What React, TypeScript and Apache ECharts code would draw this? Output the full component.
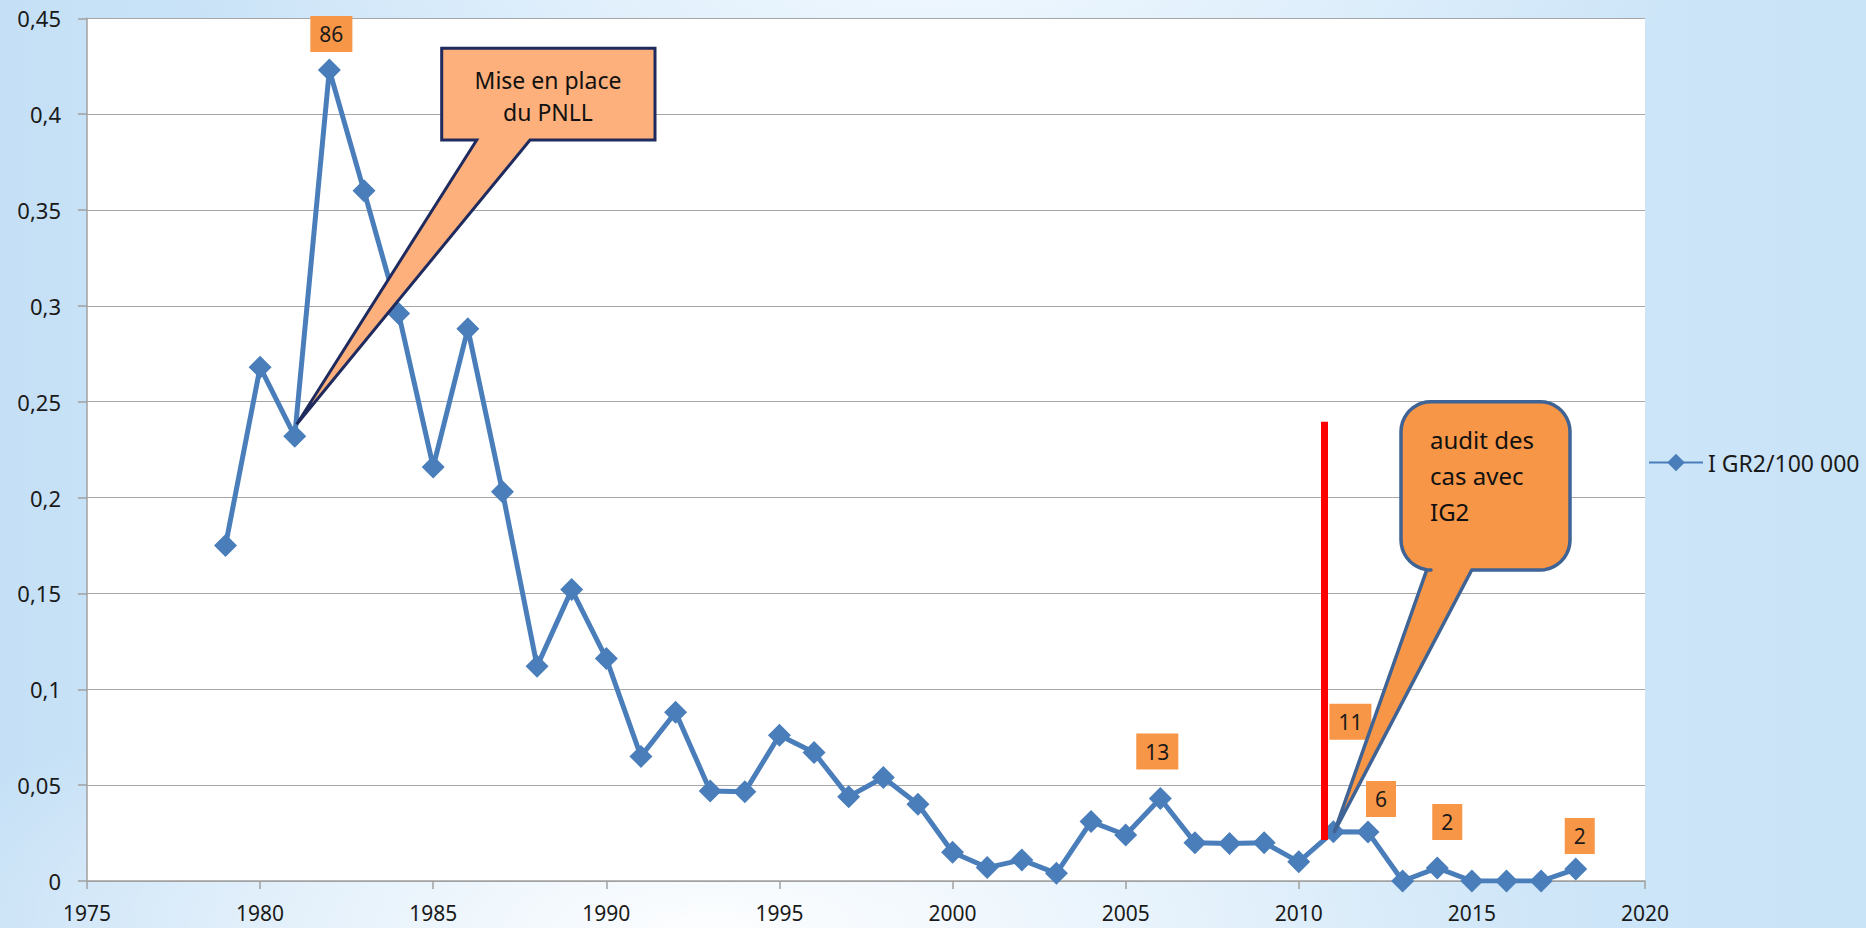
import React, { useEffect, useRef } from "react";
import * as echarts from "echarts";

// ---- data ----
const years = [
  1979, 1980, 1981, 1982, 1983, 1984, 1985, 1986, 1987, 1988, 1989, 1990,
  1991, 1992, 1993, 1994, 1995, 1996, 1997, 1998, 1999, 2000, 2001, 2002,
  2003, 2004, 2005, 2006, 2007, 2008, 2009, 2010, 2011, 2012, 2013, 2014,
  2015, 2016, 2017, 2018,
];
const rates = [
  0.175, 0.268, 0.232, 0.423, 0.36, 0.296, 0.216, 0.288, 0.203, 0.112, 0.152,
  0.116, 0.065, 0.088, 0.047, 0.0465, 0.076, 0.067, 0.044, 0.054, 0.04, 0.015,
  0.007, 0.011, 0.004, 0.031, 0.024, 0.043, 0.02, 0.0195, 0.02, 0.01, 0.0257,
  0.0255, 0, 0.0068, 0, 0, 0, 0.0062,
];
// case counts shown in orange boxes: [year, count]
const caseCounts: [number, number][] = [
  [1982, 86],
  [2006, 13],
  [2011, 11],
  [2012, 6],
  [2014, 2],
  [2018, 2],
];
const seriesName = "I GR2/100 000";
const xMin = 1975;
const xMax = 2020;
const xStep = 5;
const yMin = 0;
const yMax = 0.45;
const yStep = 0.05;
// red vertical marker: [year, valueFrom, valueTo]
const auditMarker = [2010.75, 0.0214, 0.2396];
const calloutPNLLYear = 1981;
const calloutAuditYear = 2011;
const calloutPNLLText = ["Mise en place", "du PNLL"];
const calloutAuditText = ["audit des", "cas avec", "IG2"];

const FONT = '"Noto Sans", "Open Sans", sans-serif';

// label offsets (pixels) relative to the point, kept out of the data
const labelOffsets: Record<number, [number, number]> = {
  1982: [2, -36],
  2006: [-3, -47],
  2011: [17, -110],
  2012: [13, -33],
  2014: [10, -46],
  2018: [4, -33],
};

function roundedCallout(
  x0: number, y0: number, x1: number, y1: number, r: number,
  baseL: number, baseR: number, tip: number[]
): number[][] {
  const pts: number[][] = [];
  const arc = (cx: number, cy: number, a0: number, a1: number) => {
    const n = 10;
    for (let i = 0; i <= n; i++) {
      const a = ((a0 + ((a1 - a0) * i) / n) * Math.PI) / 180;
      pts.push([cx + r * Math.cos(a), cy + r * Math.sin(a)]);
    }
  };
  arc(x0 + r, y0 + r, 180, 270);
  arc(x1 - r, y0 + r, 270, 360);
  arc(x1 - r, y1 - r, 0, 90);
  pts.push([baseR, y1]);
  pts.push(tip);
  pts.push([baseL, y1]);
  arc(x0 + r, y1 - r, 90, 180);
  return pts;
}

export default function App() {
  const ref = useRef<HTMLDivElement>(null);

  useEffect(() => {
    if (!ref.current) return;
    const chart = echarts.init(ref.current, undefined, { renderer: "svg" });
    const countMap = new Map(caseCounts);

    const data = years.map((y, i) => {
      const c = countMap.get(y);
      if (c === undefined) return [y, rates[i]];
      return {
        value: [y, rates[i]],
        label: {
          show: true,
          position: "inside",
          offset: labelOffsets[y] || [0, -36],
          formatter: String(c),
        },
      };
    });

    chart.setOption({
      animation: false,
      backgroundColor: "transparent",
      grid: {
        left: 87,
        right: 221,
        top: 18.3,
        bottom: 47,
        show: true,
        backgroundColor: "#ffffff",
        borderWidth: 0,
        outerBoundsMode: "none",
      },
      legend: {
        data: [seriesName],
        orient: "vertical",
        left: 1648,
        top: 451,
        padding: 0,
        itemWidth: 54,
        itemHeight: 22,
        textStyle: { fontSize: 23, color: "#1a1a1a", fontFamily: FONT },
      },
      xAxis: {
        type: "value",
        min: xMin,
        max: xMax,
        interval: xStep,
        axisLine: { show: true, lineStyle: { color: "#a0a0a0", width: 1.5 } },
        axisTick: { show: true, inside: false, length: 8, lineStyle: { color: "#a0a0a0", width: 1.5 } },
        axisLabel: {
          fontSize: 21,
          lineHeight: 24,
          color: "#1a1a1a",
          fontFamily: FONT,
          margin: 20,
          formatter: (v: number) => String(v),
        },
        splitLine: { show: false },
      },
      yAxis: {
        type: "value",
        min: yMin,
        max: yMax,
        interval: yStep,
        axisLine: { show: true, lineStyle: { color: "#a0a0a0", width: 1.5 } },
        axisTick: { show: true, inside: false, length: 9, lineStyle: { color: "#a0a0a0", width: 1.5 } },
        axisLabel: {
          fontSize: 22,
          color: "#1a1a1a",
          fontFamily: FONT,
          margin: 26,
          formatter: (v: number) => String(Math.round(v * 100) / 100).replace(".", ","),
        },
        splitLine: { show: true, lineStyle: { color: "#a6a6a6", width: 1 } },
      },
      series: [
        {
          name: seriesName,
          type: "line",
          data,
          symbol: "diamond",
          symbolSize: 23,
          color: "#4a7ebb",
          lineStyle: { color: "#4a7ebb", width: 5 },
          itemStyle: { color: "#4a7ebb" },
          label: {
            show: false,
            backgroundColor: "#f79646",
            color: "#1a1a1a",
            fontSize: 21,
            fontFamily: FONT,
            padding: [8, 9, 7, 9],
          },
          z: 2,
          markLine: {
            silent: true,
            symbol: ["none", "none"],
            label: { show: false },
            lineStyle: { color: "#ff0000", width: 7, type: "solid" },
            data: [
              [
                { coord: [auditMarker[0], auditMarker[1]] },
                { coord: [auditMarker[0], auditMarker[2]] },
              ],
            ],
          },
        },
      ],
    });

    const i1 = years.indexOf(calloutPNLLYear);
    const i2 = years.indexOf(calloutAuditYear);
    const p1 = chart.convertToPixel({ gridIndex: 0 }, [calloutPNLLYear, rates[i1]]) as number[];
    const p2 = chart.convertToPixel({ gridIndex: 0 }, [calloutAuditYear, rates[i2]]) as number[];

    const tip1 = [p1[0] + 2, p1[1] - 12];
    const poly1 = [
      [441.7, 48.3],
      [655, 48.3],
      [655, 140],
      [530, 140],
      tip1,
      [476.7, 140],
      [441.7, 140],
    ];
    const tip2 = [p2[0] + 1, p2[1]];
    const poly2 = roundedCallout(1401, 401.7, 1570, 570, 30, 1426.7, 1471.7, tip2);

    chart.setOption({
      graphic: [
        {
          type: "polygon",
          shape: { points: poly1 },
          style: { fill: "#fdb07b", stroke: "#1f2a5e", lineWidth: 3, lineJoin: "miter" },
          z: 100,
        },
        ...calloutPNLLText.map((t, k) => ({
          type: "text",
          z: 101,
          style: {
            text: t,
            x: 548,
            y: 80 + k * 31.7,
            fill: "#111111",
            font: `23px ${FONT}`,
            textAlign: "center",
            textVerticalAlign: "middle",
          },
        })),
        {
          type: "polygon",
          shape: { points: poly2 },
          style: { fill: "#f79646", stroke: "#3e6394", lineWidth: 3.5, lineJoin: "round" },
          z: 100,
        },
        ...calloutAuditText.map((t, k) => ({
          type: "text",
          z: 101,
          style: {
            text: t,
            x: 1430,
            y: 439 + k * 36,
            fill: "#111111",
            font: `24px ${FONT}`,
            textAlign: "left",
            textVerticalAlign: "middle",
          },
        })),
      ],
    });

    return () => chart.dispose();
  }, []);

  return (
    <div
      style={{
        position: "absolute",
        left: 0,
        top: 0,
        width: 1866,
        height: 928,
        background:
          "radial-gradient(ellipse 45% 30% at 38% 100%, rgba(255,255,255,0.95) 0%, rgba(255,255,255,0) 100%), radial-gradient(ellipse 40% 12% at 50% 0%, rgba(240,248,255,0.9) 0%, rgba(240,248,255,0) 100%), linear-gradient(90deg, #c5e0f6 0%, #d8ebfa 50%, #c9e3f7 100%)",
      }}
    >
      <div ref={ref} style={{ width: 1866, height: 928 }} />
    </div>
  );
}
